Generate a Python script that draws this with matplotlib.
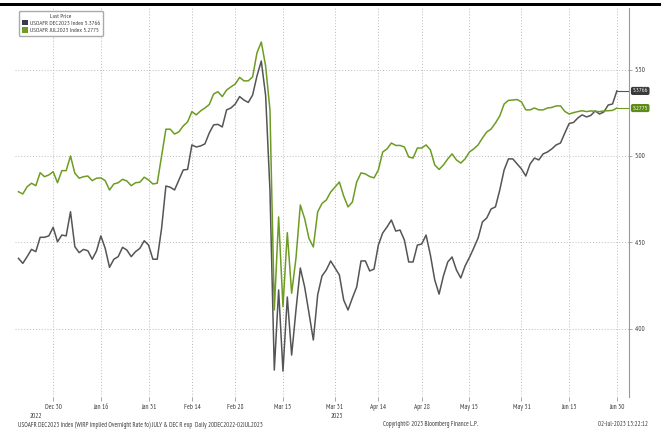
import matplotlib.pyplot as plt
from matplotlib.patches import Patch, Rectangle
import numpy as np
import pandas as pd

# daily business days 20DEC2022 - 30JUN2023
dates = pd.bdate_range('2022-12-20', '2023-06-30')

dec_vals = [
    4.407, 4.378, 4.417, 4.459, 4.446, 4.529, 4.529, 4.537, 4.587, 4.503,
    4.542, 4.537, 4.677, 4.475, 4.440, 4.459, 4.451, 4.402, 4.450, 4.537,
    4.465, 4.355, 4.402, 4.417, 4.471, 4.455, 4.417, 4.446, 4.465, 4.509,
    4.484, 4.402, 4.402, 4.580, 4.826, 4.819, 4.803, 4.861, 4.919, 4.922,
    5.064, 5.052, 5.058, 5.070, 5.133, 5.180, 5.183, 5.168, 5.267, 5.278,
    5.301, 5.344, 5.324, 5.310, 5.353, 5.463, 5.550, 5.350, 4.800, 3.760,
    4.224, 3.754, 4.183, 3.847, 4.108, 4.351, 4.241, 4.090, 3.934, 4.195,
    4.305, 4.340, 4.392, 4.351, 4.311, 4.166, 4.108, 4.177, 4.241, 4.392,
    4.392, 4.334, 4.345, 4.484, 4.554, 4.589, 4.629, 4.565, 4.571, 4.513,
    4.386, 4.386, 4.484, 4.490, 4.542, 4.426, 4.282, 4.200, 4.305, 4.386,
    4.415, 4.340, 4.293, 4.363, 4.412, 4.467, 4.525, 4.618, 4.641, 4.693,
    4.705, 4.803, 4.919, 4.983, 4.983, 4.954, 4.925, 4.884, 4.954, 4.988,
    4.977, 5.012, 5.023, 5.041, 5.064, 5.075, 5.133, 5.188, 5.194, 5.220,
    5.238, 5.226, 5.235, 5.261, 5.243, 5.255, 5.295, 5.301, 5.3766,
]

jul_vals = [
    4.793, 4.780, 4.822, 4.842, 4.828, 4.903, 4.880, 4.890, 4.909, 4.845,
    4.915, 4.915, 5.000, 4.900, 4.871, 4.880, 4.884, 4.857, 4.871, 4.873,
    4.857, 4.803, 4.838, 4.845, 4.865, 4.855, 4.828, 4.845, 4.848, 4.877,
    4.861, 4.838, 4.842, 5.000, 5.155, 5.155, 5.127, 5.140, 5.174, 5.197,
    5.257, 5.238, 5.261, 5.278, 5.298, 5.359, 5.372, 5.344, 5.382, 5.400,
    5.417, 5.455, 5.435, 5.435, 5.458, 5.597, 5.660, 5.521, 5.266, 4.108,
    4.647, 4.127, 4.556, 4.205, 4.409, 4.716, 4.637, 4.522, 4.473, 4.676,
    4.725, 4.745, 4.791, 4.820, 4.849, 4.768, 4.705, 4.733, 4.849, 4.902,
    4.896, 4.881, 4.873, 4.919, 5.023, 5.041, 5.075, 5.061, 5.061, 5.052,
    4.994, 4.988, 5.046, 5.046, 5.064, 5.035, 4.948, 4.922, 4.948, 4.983,
    5.012, 4.977, 4.959, 4.983, 5.023, 5.041, 5.064, 5.104, 5.139, 5.156,
    5.191, 5.232, 5.301, 5.322, 5.324, 5.327, 5.313, 5.267, 5.267, 5.278,
    5.267, 5.267, 5.278, 5.281, 5.290, 5.290, 5.258, 5.243, 5.251, 5.257,
    5.262, 5.257, 5.261, 5.258, 5.257, 5.261, 5.262, 5.264, 5.2775,
]

tick_dates = ['2022-12-30', '2023-01-16', '2023-01-31', '2023-02-14', '2023-02-28',
              '2023-03-15', '2023-03-31', '2023-04-14', '2023-04-28', '2023-05-15',
              '2023-05-31', '2023-06-15', '2023-06-30']
tick_labels = ['Dec 30', 'Jan 16', 'Jan 31', 'Feb 14', 'Feb 28', 'Mar 15', 'Mar 31',
               'Apr 14', 'Apr 28', 'May 15', 'May 31', 'Jun 15', 'Jun 30']
y_ticks = [4.0, 4.5, 5.0, 5.5]

GREY = '#555555'
GREEN = '#6e9c22'
TXT = '#3c3c3c'

plt.rcParams['font.family'] = ['PT Sans Narrow', 'DejaVu Sans']

W, H = 661, 434
fig = plt.figure(figsize=(W / 100, H / 100), dpi=100)
ax = fig.add_axes([15 / W, 1 - 397 / H, (629 - 15) / W, (397 - 8) / H])

x = np.arange(len(dates))
ax.plot(x, dec_vals, color=GREY, lw=1.1)
ax.plot(x, jul_vals, color=GREEN, lw=1.1)

ax.set_xlim(-0.8, 140.8)
ax.set_ylim(3.604, 5.857)

# connectors to the last value boxes
xr = ax.get_xlim()[1]
ax.plot([x[-1], xr], [dec_vals[-1]] * 2, color=GREY, lw=0.8)
ax.plot([x[-1], xr], [jul_vals[-1]] * 2, color=GREEN, lw=0.8)

tick_idx = [dates.get_loc(pd.Timestamp(d)) for d in tick_dates]
ax.set_xticks(tick_idx, tick_labels)
ax.tick_params(axis='x', length=3, width=0.6, color='#999999', labelsize=5,
               labelcolor=TXT, pad=2)

ax.yaxis.tick_right()
ax.set_yticks(y_ticks, [f'{v:.2f}' for v in y_ticks])
ax.tick_params(axis='y', length=2, width=0.6, color='#999999', labelsize=5,
               labelcolor=TXT, pad=2)

ax.grid(True, axis='x', ls=(0, (1, 2)), color='#bbbbbb', lw=0.7)
ax.grid(True, axis='y', ls=(0, (1, 2)), color='#bbbbbb', lw=0.7)
for s in ['top', 'left', 'bottom']:
    ax.spines[s].set_visible(False)
ax.spines['right'].set_color('#999999')
ax.spines['right'].set_linewidth(0.8)

# year labels centred under each year's span
yr_tr = ax.get_xaxis_transform()
n22 = sum(1 for d in dates if d.year == 2022)
ax.annotate('2022', xy=((n22 - 1) / 2, 0), xycoords=yr_tr, xytext=(0, -14),
            textcoords='offset points', ha='center', va='center', fontsize=5, color=TXT)
ax.annotate('2023', xy=((n22 + len(dates) - 1) / 2, 0), xycoords=yr_tr, xytext=(0, -14),
            textcoords='offset points', ha='center', va='center', fontsize=5, color=TXT)

# last value boxes on the right axis
val_tr = ax.get_yaxis_transform()
ax.annotate(f'{dec_vals[-1]:.4f}', xy=(1, dec_vals[-1]), xycoords=val_tr, xytext=(2.5, 0),
            textcoords='offset points', ha='left', va='center', fontsize=4.5, color='white',
            bbox=dict(boxstyle='round,pad=0.25,rounding_size=0.3', fc='#3a3a3a', ec='none'))
ax.annotate(f'{jul_vals[-1]:.4f}', xy=(1, jul_vals[-1]), xycoords=val_tr, xytext=(2.5, 0),
            textcoords='offset points', ha='left', va='center', fontsize=4.5, color='white',
            bbox=dict(boxstyle='round,pad=0.25,rounding_size=0.3', fc='#5e8c18', ec='none'))

handles = [Patch(fc='#3a3a4a', ec='none'), Patch(fc='#6e9c22', ec='none')]
labels = [f'USOAFR DEC2023 Index {dec_vals[-1]:.4f}', f'USOAFR JUL2023 Index {jul_vals[-1]:.4f}']
leg = ax.legend(handles, labels, title='Last Price', loc='upper left',
                bbox_to_anchor=(19 / W, 1 - 11 / H), bbox_transform=fig.transFigure,
                fontsize=4.6, title_fontsize=4.6, handlelength=0.9, handleheight=0.9,
                handletextpad=0.3, borderpad=0.45, labelspacing=0.2, borderaxespad=0,
                frameon=True, fancybox=True, edgecolor='#aaaaaa', framealpha=1)
for t in leg.get_texts():
    t.set_color(TXT)
leg.get_title().set_color(TXT)

# top black bar
fig.add_artist(Rectangle((0, 1 - 6 / H), 1, 3.3 / H, transform=fig.transFigure,
                         color='black', lw=0))

# footer
fy = 1 - 425 / H
fig.text(18 / W, fy, 'USOAFR DEC2023 Index (WIRP Implied Overnight Rate fo) JULY & DEC R exp  '
         'Daily 20DEC2022-02JUL2023', fontsize=4.8, color=TXT, va='center')
fig.text(383 / W, fy, 'Copyright\u00a9 2023 Bloomberg Finance L.P.', fontsize=4.8,
         color=TXT, va='center')
fig.text(648 / W, fy, '02-Jul-2023 13:22:12', fontsize=4.8, color=TXT,
         va='center', ha='right')

fig.savefig('out.png', dpi=100)
